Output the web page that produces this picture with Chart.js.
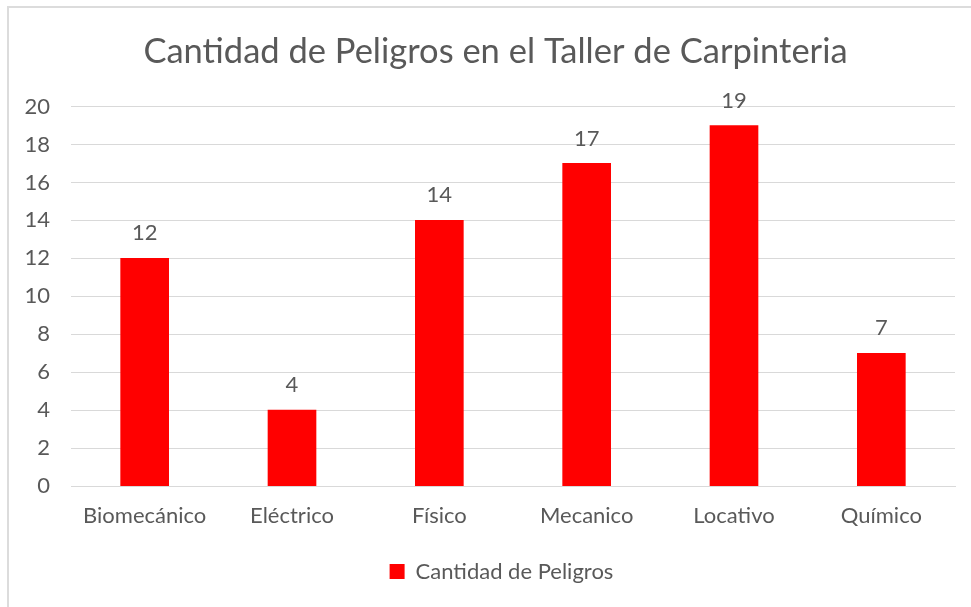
<!DOCTYPE html>
<html>
<head>
<meta charset="utf-8">
<script src="https://cdn.jsdelivr.net/npm/chart.js@4.4.1/dist/chart.umd.min.js"></script>
<style>
  html, body { margin: 0; padding: 0; background: #fff; }
  #wrap { width: 971px; height: 607px; }
</style>
</head>
<body>
<div id="wrap"><canvas id="chart" width="971" height="607"></canvas></div>
<script>
let categories = ["Biomecánico", "Eléctrico", "Físico", "Mecanico", "Locativo", "Químico"];
let peligros = [12, 4, 14, 17, 19, 7];
let seriesName = "Cantidad de Peligros";
let titleText = "Cantidad de Peligros en el Taller de Carpinteria";
let yMin = 0, yMax = 20, yStep = 2;

let textGray = "#595959";
let fontFamily = "Lato, 'Open Sans', sans-serif";

// thin frame round the chart, like the spreadsheet border
let framePlugin = {
    id: "frame",
    beforeDraw(chart) {
        let ctx = chart.ctx;
        ctx.save();
        ctx.strokeStyle = "#dcdcdc";
        ctx.lineWidth = 2;
        ctx.beginPath();
        ctx.moveTo(8, 607);
        ctx.lineTo(8, 7);
        ctx.lineTo(971, 7);
        ctx.stroke();
        ctx.restore();
    }
};

// title and legend sit a bit right of the plot centre in the original
let nudgeBoxes = {
    id: "nudgeBoxes",
    afterLayout(chart) {
        chart.titleBlock.left += 18;
        chart.titleBlock.right += 18;
        chart.legend.left += 24;
        chart.legend.right += 24;
    }
};

// value above each bar
let valueLabels = {
    id: "valueLabels",
    afterDatasetsDraw(chart) {
        let ctx = chart.ctx;
        let meta = chart.getDatasetMeta(0);
        ctx.save();
        ctx.font = "22px " + fontFamily;
        ctx.fillStyle = textGray;
        ctx.textAlign = "center";
        ctx.textBaseline = "middle";
        meta.data.forEach((bar, i) => {
            ctx.fillText(String(chart.data.datasets[0].data[i]), bar.x, bar.y - 25);
        });
        ctx.restore();
    }
};

let chartCanvas = document.getElementById("chart").getContext('2d');
let graph = new Chart(chartCanvas, {
    type: 'bar',
    data: {
        labels: categories,
        datasets: [{
            label: seriesName,
            data: peligros,
            backgroundColor: "#ff0000",
            borderWidth: 0,
            barThickness: 48,
        }]
    },
    options: {
        responsive: false,
        animation: false,
        layout: {padding: {left: 0, right: 16, top: 0, bottom: 14.5}},
        plugins: {
            title: {
                display: true,
                text: titleText,
                color: textGray,
                font: {family: fontFamily, size: 34.5, weight: 'normal', lineHeight: 1.2},
                padding: {top: 31.3, bottom: 33.8},
            },
            legend: {
                position: 'bottom',
                labels: {
                    color: textGray,
                    font: {family: fontFamily, size: 22},
                    boxWidth: 15,
                    boxHeight: 15,
                    padding: 14,
                },
            },
            tooltip: {enabled: false},
        },
        scales: {
            x: {
                grid: {display: false, drawTicks: false},
                border: {color: "#d9d9d9", width: 1},
                ticks: {color: textGray, font: {family: fontFamily, size: 22}, padding: 17, maxRotation: 0},
            },
            y: {
                min: yMin,
                max: yMax,
                grid: {color: "#d9d9d9", lineWidth: 1, drawTicks: false},
                border: {display: false},
                ticks: {stepSize: yStep, color: textGray, font: {family: fontFamily, size: 22}, padding: 21},
                afterFit(scale) { scale.width = 71; },
            },
        },
    },
    plugins: [framePlugin, nudgeBoxes, valueLabels],
});
</script>
</body>
</html>
